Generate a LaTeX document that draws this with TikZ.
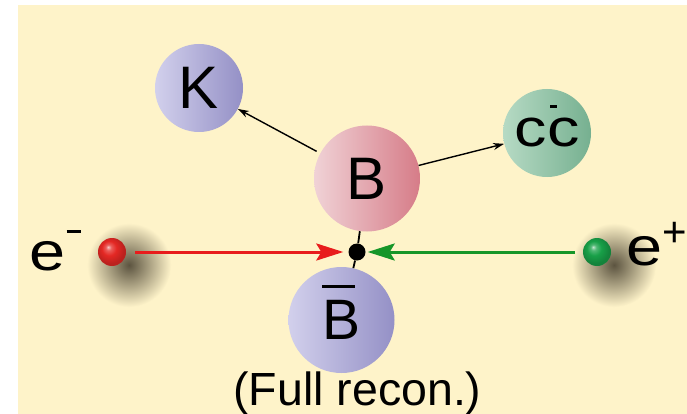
\documentclass[tikz,border=0pt]{standalone}
\usepackage{fontspec}
\setmainfont{Liberation Sans}
\usetikzlibrary{arrows.meta}
\definecolor{bgc}{RGB}{254,243,201}
\definecolor{shc}{RGB}{92,84,64}
\definecolor{kl}{RGB}{210,208,236}
\definecolor{kr}{RGB}{148,144,198}
\definecolor{bl}{RGB}{240,210,214}
\definecolor{br}{RGB}{214,124,136}
\definecolor{gl}{RGB}{182,218,196}
\definecolor{gr}{RGB}{118,176,144}
\definecolor{redline}{RGB}{232,28,28}
\definecolor{greenline}{RGB}{22,150,40}
\definecolor{redball}{RGB}{228,40,36}
\definecolor{greenball}{RGB}{24,160,72}
\pgfdeclareradialshading{blobshadow}{\pgfpoint{0bp}{0bp}}{color(0bp)=(shc); color(7bp)=(shc!72!bgc); color(25bp)=(bgc); color(50bp)=(bgc)}
\pgfdeclareradialshading{redsphere}{\pgfpoint{-7bp}{9bp}}{color(0bp)=(white!75!redball); color(5bp)=(redball!75!white); color(13bp)=(redball); color(25bp)=(redball!82!black); color(50bp)=(redball!82!black)}
\pgfdeclareradialshading{greensphere}{\pgfpoint{-7bp}{9bp}}{color(0bp)=(white!75!greenball); color(5bp)=(greenball!75!white); color(13bp)=(greenball); color(25bp)=(greenball!82!black); color(50bp)=(greenball!82!black)}
\begin{document}
\begin{tikzpicture}[x=1pt,y=-1pt,
  particle/.style={circle, draw=none, inner sep=0pt, minimum size=#1},
  kaon/.style={particle=#1, left color=kl, right color=kr},
  bmeson/.style={particle=#1, left color=bl, right color=br},
  charm/.style={particle=#1, left color=gl, right color=gr},
  lepton/.style={circle, inner sep=0pt, minimum size=28pt},
  decay/.style={line width=1.4pt, -{Stealth[length=11pt,width=7pt]}},
  beam/.style={line width=3pt, -{Stealth[length=27pt,width=17pt,inset=5pt]}},
  haze/.style={shading=blobshadow},
  lbl/.style={inner sep=0pt, font=\fontsize{54}{54}\selectfont}
]
\useasboundingbox (0,0) rectangle (687,414);
\fill[white] (0,0) rectangle (687,414);
\fill[bgc] (18,5) rectangle (687,414);

% shadows of the beam particles
\shade[haze] (129,265) circle (42pt);
\shade[haze] (614,265) circle (42pt);

% particles
\node[kaon=88pt, font=\fontsize{60}{60}\selectfont] (K) at (199,88) {K};
\node[bmeson=106pt, font=\fontsize{60}{60}\selectfont] (B) at (367,178.5) {B};
\node[charm=88pt, font=\fontsize{53}{53}\selectfont] (cc) at (547,133)
  {\scalebox{1.22}[1]{c\rlap{\hspace{2.5pt}\smash{\rule[39pt]{6pt}{3pt}}}c}};
\node[kaon=106pt, font=\fontsize{57}{57}\selectfont] (Bbar) at (341.5,320)
  {\rlap{\smash{\rule[51.5pt]{33pt}{3pt}}}B};

\node[circle, fill=black, inner sep=0pt, minimum size=17pt] (v) at (357,252) {};

% connectors
\draw[line width=1.8pt] (B) -- (v) -- (Bbar);
\draw[decay, shorten <=4pt] (B) -- (K);
\draw[decay] (B) -- (cc);

\node[lepton, shading=redsphere] (em) at (112,252) {};
\node[lepton, shading=greensphere] (ep) at (597,252) {};

\draw[beam, redline, shorten <=9pt, shorten >=5pt] (em) -- (v);
\draw[beam, greenline, shorten <=8pt, shorten >=2pt] (ep) -- (v);

% labels
\node[lbl] (elab) at (48,256)
  {\scalebox{1.2}[1]{e}\rlap{\hspace{0.5pt}\smash{\rule[37pt]{14pt}{3.2pt}}}};
\node[lbl] (plab) at (645,251.5)
  {\scalebox{1.2}[1]{e}\rlap{\hspace{-1pt}\smash{\raisebox{19pt}{\fontsize{42}{42}\selectfont +}}}};
\node[inner sep=0pt, anchor=base, font=\fontsize{46.5}{46.5}\selectfont] (cap) at (357.5,405) {(Full recon.)};
\end{tikzpicture}
\end{document}
